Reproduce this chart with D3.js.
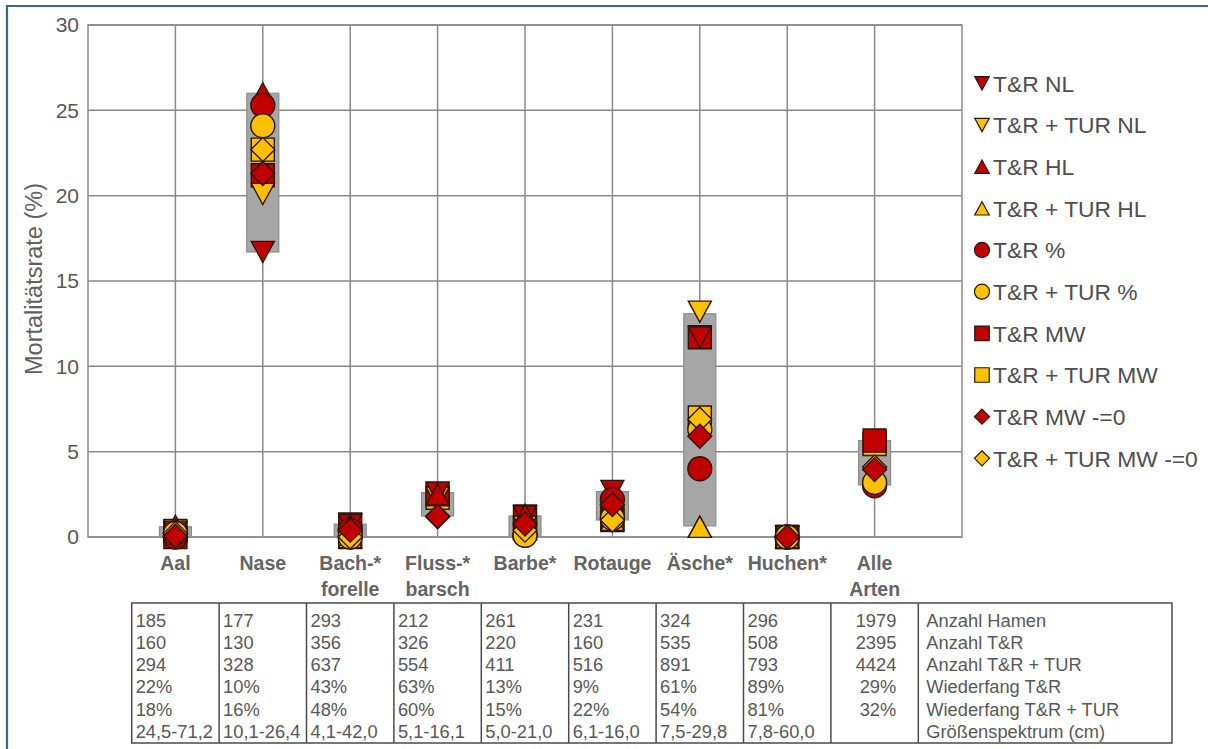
<!DOCTYPE html>
<html>
<head>
<meta charset="utf-8">
<script src="https://cdn.jsdelivr.net/npm/d3@7"></script>
<style>
  body { margin: 0; background: #fff; }
  svg { display: block; }
  text { font-family: "Liberation Sans", Arial, Helvetica, sans-serif; }
</style>
</head>
<body>
<svg id="chart" width="1208" height="749"></svg>
<script>
// Species (x positions 1..9), label lines
const categories = [
  ["Aal"], ["Nase"], ["Bach-*", "forelle"], ["Fluss-*", "barsch"], ["Barbe*"],
  ["Rotauge"], ["Äsche*"], ["Huchen*"], ["Alle", "Arten"]
];

// Mortality rates (%) per species for each estimate (null = not given)
const trNL        = [0.2, 16.7, 0.7, 2.6, 1.2, 2.7, 11.7, 0, null];
const trTurNL     = [0.3, 20.1, 0.0, 2.3, 0.6, 1.2, 13.2, 0, null];
const trHL        = [0.65, 26.0, 0.67, 2.5, 1.3, 2.0, 0.6, 0, null];
const trTurHL     = [0.4, 24.6, 0.0, null, 0.5, 1.0, 0.6, 0, null];
const trPct       = [0.0, 25.3, 0.4, null, 0.1, 2.2, 4.0, 0, 3.0];
const trTurPct    = [0.2, 24.1, 0.0, null, 0.1, 1.1, 6.3, 0, 3.2];
const trMW        = [0.0, 21.2, 0.73, 2.5, 1.2, 1.0, 11.7, 0, 5.65];
const trTurMW     = [0.35, 22.7, 0.0, 2.3, 0.5, 1.1, 7.0, 0, 5.45];
const trMW0       = [0.05, 21.3, 0.4, 1.2, 0.76, 1.9, 5.9, 0, 3.95];
const trTurMW0    = [0.2, 22.7, 0.0, 1.2, 0.4, 1.0, 6.9, 0, 4.1];

// Range bars (min/max) per species; Huchen has none
const rangeLow  = [0.0, 16.7, 0.0, 1.23, 0.06, 1.0, 0.65, null, 3.05];
const rangeHigh = [0.6, 26.0, 0.75, 2.6, 1.23, 2.66, 13.08, null, 5.65];

// Y axis ticks
const yTicks = [0, 5, 10, 15, 20, 25, 30];

// Table below the chart
const rowLabels = ["Anzahl Hamen", "Anzahl T&R", "Anzahl T&R + TUR", "Wiederfang T&R", "Wiederfang T&R + TUR", "Größenspektrum (cm)"];
const anzahlHamen   = ["185", "177", "293", "212", "261", "231", "324", "296", "1979"];
const anzahlTR      = ["160", "130", "356", "326", "220", "160", "535", "508", "2395"];
const anzahlTRTur   = ["294", "328", "637", "554", "411", "516", "891", "793", "4424"];
const wiederTR      = ["22%", "10%", "43%", "63%", "13%", "9%", "61%", "89%", "29%"];
const wiederTRTur   = ["18%", "16%", "48%", "60%", "15%", "22%", "54%", "81%", "32%"];
const groesse       = ["24,5-71,2", "10,1-26,4", "4,1-42,0", "5,1-16,1", "5,0-21,0", "6,1-16,0", "7,5-29,8", "7,8-60,0", ""];
const tableRows = [anzahlHamen, anzahlTR, anzahlTRTur, wiederTR, wiederTRTur, groesse];

const RED = "#c00000", YEL = "#ffc000";
const series = [
  { name: "T&R NL",            values: trNL,     shape: "down",    color: RED },
  { name: "T&R + TUR NL",      values: trTurNL,  shape: "down",    color: YEL },
  { name: "T&R HL",            values: trHL,     shape: "up",      color: RED },
  { name: "T&R + TUR HL",      values: trTurHL,  shape: "up",      color: YEL },
  { name: "T&R %",             values: trPct,    shape: "circle",  color: RED },
  { name: "T&R + TUR %",       values: trTurPct, shape: "circle",  color: YEL },
  { name: "T&R MW",            values: trMW,     shape: "square",  color: RED },
  { name: "T&R + TUR MW",      values: trTurMW,  shape: "square",  color: YEL },
  { name: "T&R MW -=0",        values: trMW0,    shape: "diamond", color: RED },
  { name: "T&R + TUR MW -=0",  values: trTurMW0, shape: "diamond", color: YEL }
];
// paint order: squares underneath, then triangles, circles, diamonds on top
const drawOrder = [7, 6, 1, 0, 2, 3, 4, 5, 9, 8];

const svg = d3.select("#chart");
const x = d3.scaleLinear().domain([0, 10]).range([88, 962]);
const y = d3.scaleLinear().domain([0, 30]).range([537, 25]);

// outer frame line (top and left)
svg.append("path")
  .attr("d", "M7,749 L7,6 L1208,6")
  .attr("fill", "none").attr("stroke", "#3d6683").attr("stroke-width", 2.2);

// marker path generator
function markerPath(shape, s) {
  const p = d3.path();
  if (shape === "down") {
    const w = s * 1.0, h = s * 0.92;
    p.moveTo(-w / 2, -h / 2); p.lineTo(w / 2, -h / 2); p.lineTo(0, h / 2); p.closePath();
  } else if (shape === "up") {
    const w = s * 1.0, h = s * 0.92;
    p.moveTo(-w / 2, h / 2); p.lineTo(w / 2, h / 2); p.lineTo(0, -h / 2); p.closePath();
  } else if (shape === "circle") {
    p.arc(0, 0, s * 0.52, 0, 2 * Math.PI); p.closePath();
  } else if (shape === "square") {
    p.rect(-s / 2, -s / 2, s, s);
  } else if (shape === "diamond") {
    const r = s * 0.52;
    p.moveTo(0, -r); p.lineTo(r, 0); p.lineTo(0, r); p.lineTo(-r, 0); p.closePath();
  }
  return p.toString();
}

// plot background + grid
const plot = svg.append("g");
plot.append("rect")
  .attr("x", x(0)).attr("y", y(30))
  .attr("width", x(10) - x(0)).attr("height", y(0) - y(30))
  .attr("fill", "#fff");

plot.selectAll("line.hgrid").data(yTicks).enter().append("line")
  .attr("class", "hgrid")
  .attr("x1", x(0)).attr("x2", x(10))
  .attr("y1", d => y(d)).attr("y2", d => y(d))
  .attr("stroke", "#8a8a8a").attr("stroke-width", 1.5);

plot.selectAll("line.vgrid").data(categories).enter().append("line")
  .attr("class", "vgrid")
  .attr("x1", (d, i) => x(i + 1)).attr("x2", (d, i) => x(i + 1))
  .attr("y1", y(30)).attr("y2", y(0))
  .attr("stroke", "#8a8a8a").attr("stroke-width", 1.5);

plot.append("rect")
  .attr("x", x(0)).attr("y", y(30))
  .attr("width", x(10) - x(0)).attr("height", y(0) - y(30))
  .attr("fill", "none").attr("stroke", "#8a8a8a").attr("stroke-width", 1.5);

// y axis labels
const yAxis = d3.axisLeft(y).tickValues(yTicks).tickSize(0).tickPadding(9).tickFormat(d3.format("d"));
const gy = svg.append("g").attr("transform", `translate(${x(0)},0)`).call(yAxis);
gy.select(".domain").remove();
gy.selectAll("text")
  .attr("font-size", 21).attr("fill", "#575757")
  .attr("font-family", "\"Liberation Sans\", Arial, sans-serif");

svg.append("text")
  .attr("transform", "translate(42,279) rotate(-90)")
  .attr("text-anchor", "middle")
  .attr("font-size", 23.5).attr("fill", "#606060")
  .text("Mortalitätsrate (%)");

// category labels
const cat = svg.append("g").selectAll("text").data(categories).enter().append("text")
  .attr("x", (d, i) => x(i + 1))
  .attr("text-anchor", "middle")
  .attr("font-size", 19.5).attr("font-weight", "bold").attr("fill", "#646464");
cat.each(function (d) {
  const t = d3.select(this);
  d.forEach((line, k) => {
    t.append("tspan").attr("x", t.attr("x")).attr("y", 570 + k * 25.5).text(line);
  });
});

// range bars
const bars = categories.map((c, i) => ({ i, lo: rangeLow[i], hi: rangeHigh[i] })).filter(d => d.lo !== null);
svg.append("g").selectAll("rect").data(bars).enter().append("rect")
  .attr("x", d => x(d.i + 1) - 16)
  .attr("width", 32)
  .attr("y", d => y(d.hi))
  .attr("height", d => y(d.lo) - y(d.hi))
  .attr("fill", "#a6a6a6").attr("stroke", "#8c8c8c").attr("stroke-width", 1.2);

// markers
const markers = svg.append("g");
drawOrder.forEach(si => {
  const s = series[si];
  const pts = s.values.map((v, i) => ({ v, i })).filter(d => d.v !== null);
  markers.append("g").selectAll("path").data(pts).enter().append("path")
    .attr("transform", d => `translate(${x(d.i + 1)},${y(d.v)})`)
    .attr("d", markerPath(s.shape, 23))
    .attr("fill", s.color)
    .attr("stroke", "#2a160c").attr("stroke-width", 1.4).attr("stroke-linejoin", "miter");
});

// legend
const legend = svg.append("g").selectAll("g").data(series).enter().append("g")
  .attr("transform", (d, i) => `translate(982,${83.3 + i * 41.67})`);
legend.append("path")
  .attr("d", d => markerPath(d.shape, 14.5))
  .attr("fill", d => d.color)
  .attr("stroke", "#2a160c").attr("stroke-width", 1.2);
legend.append("text")
  .attr("x", 11).attr("y", 8.2)
  .attr("font-size", 22.8).attr("fill", "#4e4e4e")
  .text(d => d.name);

// data table
const tTop = 603, tBottom = 743, tRight = 1172;
const colEdges = d3.range(0, 10).map(k => x(k + 0.5));
const table = svg.append("g");
table.append("rect")
  .attr("x", colEdges[0]).attr("y", tTop)
  .attr("width", tRight - colEdges[0]).attr("height", tBottom - tTop)
  .attr("fill", "none").attr("stroke", "#4a4a4a").attr("stroke-width", 1.5);
table.selectAll("line").data(colEdges.slice(1)).enter().append("line")
  .attr("x1", d => d).attr("x2", d => d)
  .attr("y1", tTop).attr("y2", tBottom)
  .attr("stroke", "#4a4a4a").attr("stroke-width", 1.5);

tableRows.forEach((row, r) => {
  const yy = 626.5 + r * 22.3;
  row.forEach((val, c) => {
    const last = c === row.length - 1;
    table.append("text")
      .attr("x", last ? colEdges[c + 1] - 22 : colEdges[c] + 4)
      .attr("y", yy)
      .attr("text-anchor", last ? "end" : "start")
      .attr("font-size", 18.3).attr("fill", "#585858")
      .text(val);
  });
  table.append("text")
    .attr("x", colEdges[9] + 8).attr("y", yy)
    .attr("font-size", 18.3).attr("fill", "#585858")
    .text(rowLabels[r]);
});
</script>
</body>
</html>
